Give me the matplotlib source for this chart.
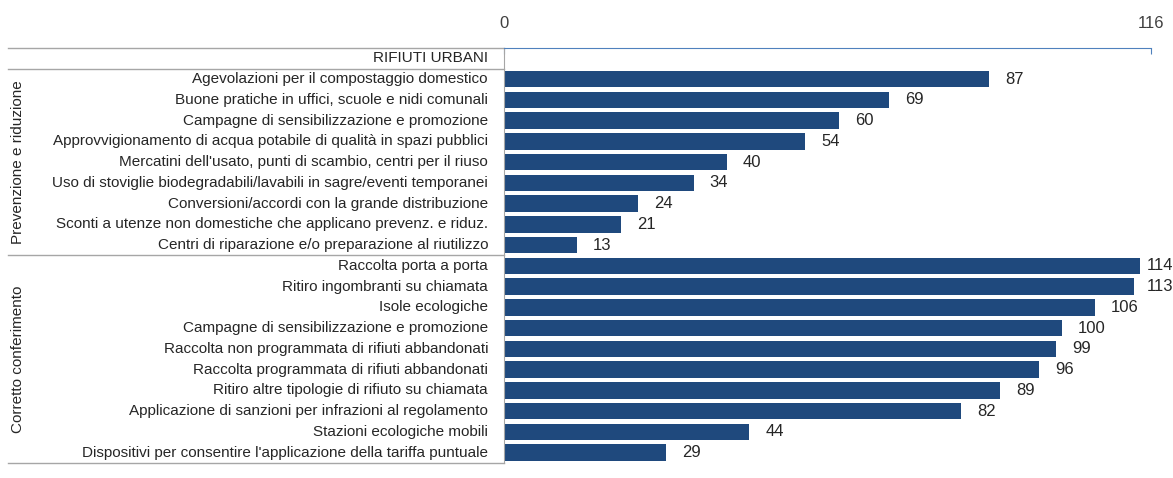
import matplotlib.pyplot as plt
from matplotlib.transforms import blended_transform_factory

# data
prevenzione = [
    "Agevolazioni per il compostaggio domestico",
    "Buone pratiche in uffici, scuole e nidi comunali",
    "Campagne di sensibilizzazione e promozione",
    "Approvvigionamento di acqua potabile di qualità in spazi pubblici",
    "Mercatini dell'usato, punti di scambio, centri per il riuso",
    "Uso di stoviglie biodegradabili/lavabili in sagre/eventi temporanei",
    "Conversioni/accordi con la grande distribuzione",
    "Sconti a utenze non domestiche che applicano prevenz. e riduz.",
    "Centri di riparazione e/o preparazione al riutilizzo",
]
prevenzione_val = [87, 69, 60, 54, 40, 34, 24, 21, 13]

conferimento = [
    "Raccolta porta a porta",
    "Ritiro ingombranti su chiamata",
    "Isole ecologiche",
    "Campagne di sensibilizzazione e promozione",
    "Raccolta non programmata di rifiuti abbandonati",
    "Raccolta programmata di rifiuti abbandonati",
    "Ritiro altre tipologie di rifiuto su chiamata",
    "Applicazione di sanzioni per infrazioni al regolamento",
    "Stazioni ecologiche mobili",
    "Dispositivi per consentire l'applicazione della tariffa puntuale",
]
conferimento_val = [114, 113, 106, 100, 99, 96, 89, 82, 44, 29]

gruppi = ["Prevenzione e riduzione", "Corretto conferimento"]
intestazione = "RIFIUTI URBANI"
x_max = 116

plt.rcParams['font.family'] = ['Liberation Sans', 'DejaVu Sans']

labels = prevenzione + conferimento
values = prevenzione_val + conferimento_val
rows = list(range(1, len(labels) + 1))

W, H = 1173, 478
ax_l, ax_r, ax_t, ax_b = 504, 1151, 48, 463
fig = plt.figure(figsize=(W / 100, H / 100), dpi=100)
ax = fig.add_axes([ax_l / W, 1 - ax_b / H, (ax_r - ax_l) / W, (ax_b - ax_t) / H])

ax.barh(rows, values, height=0.8, color='#1F497D')

# value labels: 16 px right of the bar, but kept inside the picture
k = (ax_r - ax_l) / x_max
lim = (1147 - ax_l) / k
for r, v in zip(rows, values):
    ax.text(min(v + 16 / k, lim), r, str(v), va='center', ha='left',
            fontsize=12, color='#262626')

ax.set_xlim(0, x_max)
ax.set_ylim(len(labels) + 0.5, -0.5)
ax.xaxis.tick_top()
ax.set_xticks([0, x_max])
ax.tick_params(axis='x', direction='in', length=4, color='#4F81BD', labelcolor='#404040',
               labelsize=12, pad=12)
ax.set_yticks([])
for s in ['right', 'bottom']:
    ax.spines[s].set_visible(False)
ax.spines['top'].set_color('#4F81BD')
ax.spines['left'].set_color('#A6A6A6')

tr = blended_transform_factory(ax.transAxes, ax.transData)
px = 1 / (ax_r - ax_l)
lbl_x = -16 * px
ax.text(lbl_x, 0, intestazione, transform=tr, ha='right', va='center', fontsize=11, color='#262626')
for r, l in zip(rows, labels):
    ax.text(lbl_x, r, l, transform=tr, ha='right', va='center', fontsize=11, color='#262626')

# table lines on the left
for y in [-0.5, 0.5, len(prevenzione) + 0.5, len(labels) + 0.5]:
    ax.plot([(8 - ax_l) * px, 0], [y, y], transform=tr, color='#A6A6A6', lw=1, clip_on=False)

g_x = (18 - ax_l) * px
ax.text(g_x, (1 + len(prevenzione)) / 2, gruppi[0], transform=tr, rotation=90,
        ha='center', va='center', fontsize=11, color='#262626')
ax.text(g_x, (len(prevenzione) + 1 + len(labels)) / 2, gruppi[1], transform=tr, rotation=90,
        ha='center', va='center', fontsize=11, color='#262626')

fig.savefig('out.png', dpi=100)
